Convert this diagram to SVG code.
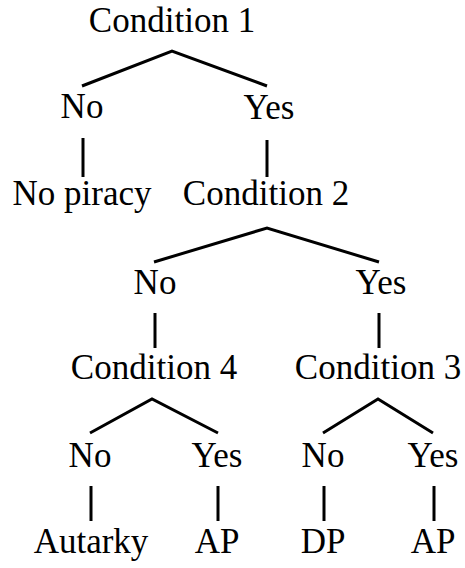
<svg xmlns="http://www.w3.org/2000/svg" width="465" height="568" viewBox="0 0 465 568">
<rect width="465" height="568" fill="#fff"/>
<g id="connectors" stroke="#000" stroke-width="3" fill="none">
<polyline points="82,86 172,51 267,86"/>
<line x1="83" y1="138" x2="83" y2="177"/>
<line x1="267" y1="140" x2="267" y2="177"/>
<polyline points="154,262 267,228 379,262"/>
<line x1="155" y1="313" x2="155" y2="348"/>
<line x1="379" y1="313" x2="379" y2="348"/>
<polyline points="90,433 152,399 218,433"/>
<polyline points="323,433 378,399 433,433"/>
<line x1="91" y1="486" x2="91" y2="521"/>
<line x1="218" y1="486" x2="218" y2="521"/>
<line x1="324" y1="486" x2="324" y2="521"/>
<line x1="434" y1="486" x2="434" y2="521"/>
</g>
<g id="cond1"><text x="172" y="32" font-size="35" font-family="Times New Roman, Liberation Serif, serif" text-anchor="middle">Condition 1</text></g>
<g id="no1"><text x="82" y="118" font-size="35" font-family="Times New Roman, Liberation Serif, serif" text-anchor="middle">No</text></g>
<g id="yes1"><text x="269" y="119" font-size="35" font-family="Times New Roman, Liberation Serif, serif" text-anchor="middle">Yes</text></g>
<g id="nopiracy"><text x="82" y="205" font-size="35" font-family="Times New Roman, Liberation Serif, serif" text-anchor="middle">No piracy</text></g>
<g id="cond2"><text x="266" y="205" font-size="35" font-family="Times New Roman, Liberation Serif, serif" text-anchor="middle">Condition 2</text></g>
<g id="no2"><text x="155" y="294" font-size="35" font-family="Times New Roman, Liberation Serif, serif" text-anchor="middle">No</text></g>
<g id="yes2"><text x="381" y="294" font-size="35" font-family="Times New Roman, Liberation Serif, serif" text-anchor="middle">Yes</text></g>
<g id="cond4"><text x="154" y="379" font-size="35" font-family="Times New Roman, Liberation Serif, serif" text-anchor="middle">Condition 4</text></g>
<g id="cond3"><text x="378" y="379" font-size="35" font-family="Times New Roman, Liberation Serif, serif" text-anchor="middle">Condition 3</text></g>
<g id="no4"><text x="90" y="467" font-size="35" font-family="Times New Roman, Liberation Serif, serif" text-anchor="middle">No</text></g>
<g id="yes4"><text x="217" y="467" font-size="35" font-family="Times New Roman, Liberation Serif, serif" text-anchor="middle">Yes</text></g>
<g id="no3"><text x="323" y="467" font-size="35" font-family="Times New Roman, Liberation Serif, serif" text-anchor="middle">No</text></g>
<g id="yes3"><text x="433" y="467" font-size="35" font-family="Times New Roman, Liberation Serif, serif" text-anchor="middle">Yes</text></g>
<g id="autarky"><text x="91" y="553" font-size="35" font-family="Times New Roman, Liberation Serif, serif" text-anchor="middle">Autarky</text></g>
<g id="ap1"><text x="217" y="553" font-size="35" font-family="Times New Roman, Liberation Serif, serif" text-anchor="middle">AP</text></g>
<g id="dp"><text x="323" y="553" font-size="35" font-family="Times New Roman, Liberation Serif, serif" text-anchor="middle">DP</text></g>
<g id="ap2"><text x="433" y="553" font-size="35" font-family="Times New Roman, Liberation Serif, serif" text-anchor="middle">AP</text></g>
</svg>
